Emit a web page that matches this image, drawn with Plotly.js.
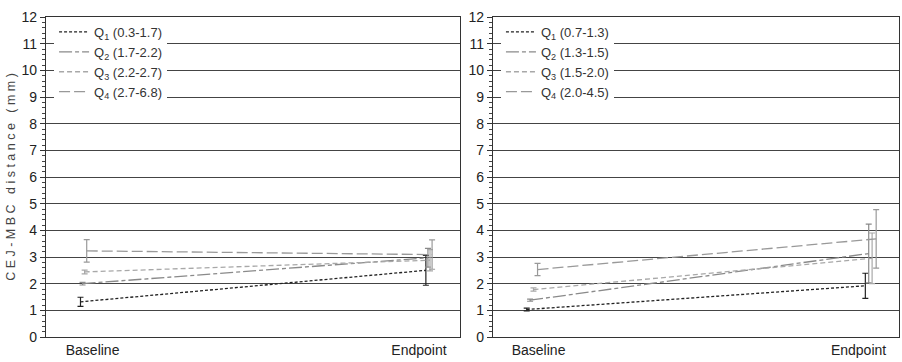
<!DOCTYPE html>
<html>
<head>
<meta charset="utf-8">
<script src="https://cdn.plot.ly/plotly-3.0.1.min.js"></script>
<style>html,body{margin:0;padding:0;background:#fff;}#chart{width:902px;height:362px;}</style>
</head>
<body>
<div id="chart"></div>
<script>
// Categories / tick labels
const timepoints = ["Baseline", "Endpoint"];
const xBase = [0, 1];
const tickPos = [0.035, 0.98];

// Series names
const leftNames = ["Q<sub>1</sub> (0.3-1.7)", "Q<sub>2</sub> (1.7-2.2)", "Q<sub>3</sub> (2.2-2.7)", "Q<sub>4</sub> (2.7-6.8)"];
const rightNames = ["Q<sub>1</sub> (0.7-1.3)", "Q<sub>2</sub> (1.3-1.5)", "Q<sub>3</sub> (1.5-2.0)", "Q<sub>4</sub> (2.0-4.5)"];

// Left panel values (mm) and error
const leftQ1 = [1.32, 2.50]; const leftQ1Err = [0.17, 0.56];
const leftQ2 = [2.00, 2.97]; const leftQ2Err = [0.05, 0.35];
const leftQ3 = [2.44, 2.88]; const leftQ3Err = [0.07, 0.40];
const leftQ4 = [3.23, 3.09]; const leftQ4Err = [0.42, 0.55];

// Right panel values (mm) and error
const rightQ1 = [1.03, 1.92]; const rightQ1Err = [0.05, 0.47];
const rightQ2 = [1.38, 3.13]; const rightQ2Err = [0.04, 1.10];
const rightQ3 = [1.78, 2.95]; const rightQ3Err = [0.06, 0.95];
const rightQ4 = [2.53, 3.68]; const rightQ4Err = [0.23, 1.10];

const styles = [
  {color: "#222222", dash: "3px,2px"},
  {color: "#8a8a8a", dash: "13px,3px,4px,3px"},
  {color: "#a8a8a8", dash: "5px,3px"},
  {color: "#999999", dash: "11px,4px"}
];
const leftOffsets = [0, 0.006, 0.012, 0.018];
const rightOffsets = [0, 0.01, 0.02, 0.032];

function mk(name, y, err, i, xa, ya, offs, leg) {
  return {
    type: "scatter", mode: "lines", name: name,
    x: xBase.map(v => v + offs[i]), y: y,
    xaxis: xa, yaxis: ya, legend: leg,
    line: {color: styles[i].color, dash: styles[i].dash, width: 1.3},
    error_y: {type: "data", array: err, visible: true, color: styles[i].color, thickness: 1.2, width: 3},
    hoverinfo: "skip"
  };
}

const data = [
  mk(leftNames[0], leftQ1, leftQ1Err, 0, "x", "y", leftOffsets, "legend"),
  mk(leftNames[1], leftQ2, leftQ2Err, 1, "x", "y", leftOffsets, "legend"),
  mk(leftNames[2], leftQ3, leftQ3Err, 2, "x", "y", leftOffsets, "legend"),
  mk(leftNames[3], leftQ4, leftQ4Err, 3, "x", "y", leftOffsets, "legend"),
  mk(rightNames[0], rightQ1, rightQ1Err, 0, "x2", "y2", rightOffsets, "legend2"),
  mk(rightNames[1], rightQ2, rightQ2Err, 1, "x2", "y2", rightOffsets, "legend2"),
  mk(rightNames[2], rightQ3, rightQ3Err, 2, "x2", "y2", rightOffsets, "legend2"),
  mk(rightNames[3], rightQ4, rightQ4Err, 3, "x2", "y2", rightOffsets, "legend2")
];

const font = {family: "Liberation Sans, Arial, sans-serif", size: 14, color: "#222"};
function yax(anchor, title) {
  const a = {
    anchor: anchor, range: [0, 12], dtick: 1, tick0: 0,
    showgrid: true, gridcolor: "#444", gridwidth: 1,
    showline: true, linecolor: "#333", linewidth: 1, mirror: true,
    ticks: "outside", ticklen: 5, tickcolor: "#333", tickwidth: 1,
    minor: {dtick: 0.2, ticks: "outside", ticklen: 3, tickcolor: "#444", showgrid: false},
    zeroline: false, tickfont: {family: font.family, size: 14, color: "#222"}, fixedrange: true
  };
  if (title) a.title = {text: title, font: {family: font.family, size: 12.5, color: "#444"}, standoff: 3};
  return a;
}
function xax(domain, anchor) {
  return {
    domain: domain, anchor: anchor, range: [-0.1, 1.1],
    tickvals: tickPos, ticktext: timepoints, ticks: "",
    showgrid: false, zeroline: false,
    showline: true, linecolor: "#333", linewidth: 1, mirror: true,
    tickfont: {family: font.family, size: 14, color: "#222"}, fixedrange: true
  };
}
const legendCommon = {
  bgcolor: "#ffffff", borderwidth: 0, yanchor: "top", xanchor: "left",
  font: {family: "Liberation Sans, Arial, sans-serif", size: 13, color: "#333"},
  tracegroupgap: 0, itemwidth: 30, traceorder: "normal"
};

const layout = {
  width: 902, height: 362,
  margin: {l: 0, r: 1, t: 17, b: 25},
  paper_bgcolor: "#fff", plot_bgcolor: "#fff",
  font: font, showlegend: true,
  xaxis: xax([0.051, 0.511], "y"),
  yaxis: yax("x", "C E J - M B C   d i s t a n c e   ( m m )"),
  xaxis2: xax([0.547, 0.998], "y2"),
  yaxis2: yax("x2", null),
  legend: Object.assign({x: 0.06, y: 1.0}, legendCommon),
  legend2: Object.assign({x: 0.556, y: 1.0}, legendCommon)
};

Plotly.newPlot("chart", data, layout, {staticPlot: true, displayModeBar: false});
</script>
</body>
</html>
